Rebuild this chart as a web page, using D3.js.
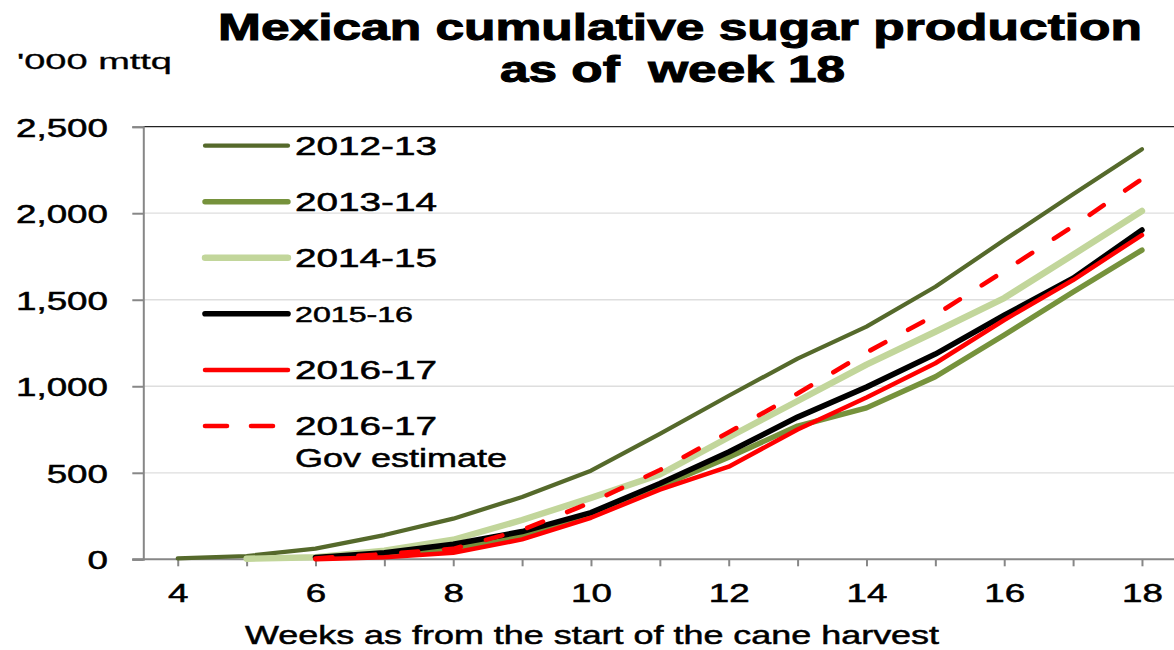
<!DOCTYPE html>
<html>
<head>
<meta charset="utf-8">
<script src="https://cdn.jsdelivr.net/npm/d3@7/dist/d3.min.js"></script>
<style>
  html, body { margin: 0; padding: 0; background: #fff; }
  svg { display: block; font-family: "Liberation Sans", Arial, sans-serif; }
  text { white-space: pre; }
</style>
</head>
<body>
<svg id="chart" width="1174" height="650"></svg>
<script>
// Week numbers since the start of the cane harvest
const weeks = [4, 5, 6, 7, 8, 9, 10, 11, 12, 13, 14, 15, 16, 17, 18];

// Cumulative production, '000 mttq (null = no data for that week)
const season1213 = [5, 19, 62, 140, 235, 360, 512, 725, 945, 1160, 1345, 1575, 1845, 2110, 2370];
const season1314 = [null, null, 5, 25, 60, 140, 255, 420, 590, 770, 875, 1055, 1296, 1545, 1787];
const season1415 = [null, 3, 12, 50, 113, 227, 355, 490, 705, 915, 1125, 1315, 1510, 1760, 2013];
const season1516 = [null, null, 10, 38, 87, 160, 270, 438, 620, 822, 995, 1186, 1410, 1624, 1903];
const season1617 = [null, null, 0, 12, 38, 115, 240, 403, 535, 750, 935, 1133, 1383, 1614, 1874];
const govEstimate1617 = [null, null, 5, 30, 60, 170, 328, 516, 734, 958, 1195, 1412, 1666, 1925, 2198];

const yTicks = [0, 500, 1000, 1500, 2000, 2500];
const xTicks = [4, 6, 8, 10, 12, 14, 16, 18];

const seriesList = [
  { name: "2012-13", values: season1213, color: "#55692b", width: 4.2, dash: null },
  { name: "2013-14", values: season1314, color: "#76923c", width: 5.4, dash: null },
  { name: "2014-15", values: season1415, color: "#c2d69b", width: 6.4, dash: null },
  { name: "2015-16", values: season1516, color: "#000000", width: 5.6, dash: null },
  { name: "2016-17", values: season1617, color: "#ff0000", width: 4.5, dash: null },
  { name: "2016-17", values: govEstimate1617, color: "#ff0000", width: 4.6, dash: "17,26", extra: "Gov estimate" }
];

const svg = d3.select("#chart");
const FONT = "'Liberation Sans', Arial, sans-serif";

const plotLeft = 143.3, plotRight = 1176.4, plotTop = 126.7, plotBottom = 559.3;
const x = d3.scaleLinear().domain([3.5, 18.5]).range([plotLeft, plotRight]);
const y = d3.scaleLinear().domain([0, 2500]).range([plotBottom, plotTop]);

// stretch text horizontally to the wide lettering of the chart
function widen(sel, factor) {
  sel.each(function () {
    const w = this.getComputedTextLength();
    this.setAttribute("textLength", w * factor);
    this.setAttribute("lengthAdjust", "spacingAndGlyphs");
  });
}
function fixWidth(sel, w) {
  sel.attr("textLength", w).attr("lengthAdjust", "spacingAndGlyphs");
}
function heavy(sel, sw) {
  sel.attr("stroke", "#000").attr("stroke-width", sw).attr("paint-order", "stroke");
}

// gridlines
svg.append("g").selectAll("line")
  .data(yTicks.filter(d => d > 0 && d < 2500))
  .join("line")
  .attr("x1", plotLeft).attr("x2", 1174)
  .attr("y1", d => y(d)).attr("y2", d => y(d))
  .attr("stroke", "#dedede").attr("stroke-width", 1.3);

// top border of plot area
svg.append("line")
  .attr("x1", plotLeft).attr("x2", 1174)
  .attr("y1", y(2500)).attr("y2", y(2500))
  .attr("stroke", "#222").attr("stroke-width", 1.2);

// y axis
const yAxis = svg.append("g")
  .attr("transform", `translate(${plotLeft},0)`)
  .call(d3.axisLeft(y).tickValues(yTicks).tickSize(11).tickPadding(24.3)
    .tickFormat(d3.format(",")));
yAxis.select(".domain").attr("stroke", "#878787").attr("stroke-width", 2);
yAxis.selectAll(".tick line").attr("stroke", "#878787").attr("stroke-width", 2);
yAxis.selectAll(".tick text")
  .attr("font-family", FONT).attr("font-size", 25).attr("fill", "#000")
  .attr("dy", "0.38em");
widen(yAxis.selectAll(".tick text"), 1.47);
heavy(yAxis.selectAll(".tick text"), 0.5);

// x axis
const xAxis = svg.append("g")
  .attr("transform", `translate(0,${plotBottom})`)
  .call(d3.axisBottom(x).tickValues(weeks).tickSize(7)
    .tickFormat(d => xTicks.includes(d) ? d : ""));
xAxis.select(".domain").remove();
xAxis.append("line")
  .attr("x1", plotLeft - 11).attr("x2", 1174).attr("y1", 0).attr("y2", 0)
  .attr("stroke", "#878787").attr("stroke-width", 2);
xAxis.selectAll(".tick line").attr("stroke", "#878787").attr("stroke-width", 2);
xAxis.selectAll(".tick text")
  .attr("font-family", FONT).attr("font-size", 25).attr("fill", "#000")
  .attr("y", 42.4).attr("dy", 0);
widen(xAxis.selectAll(".tick text"), 1.47);
heavy(xAxis.selectAll(".tick text"), 0.5);

// series lines
const line = d3.line()
  .defined(d => d.v !== null)
  .x(d => x(d.w))
  .y(d => y(d.v));

svg.append("g").selectAll("path")
  .data(seriesList)
  .join("path")
  .attr("d", s => line(weeks.map((w, i) => ({ w, v: s.values[i] }))))
  .attr("fill", "none")
  .attr("stroke", s => s.color)
  .attr("stroke-width", s => s.width)
  .attr("stroke-linecap", "round")
  .attr("stroke-linejoin", "round")
  .attr("stroke-dasharray", s => s.dash);

// legend
const legendY = [145.7, 201.7, 257.7, 313.7, 370, 426];
const legend = svg.append("g");
seriesList.forEach((s, i) => {
  const ly = legendY[i];
  legend.append("line")
    .attr("x1", 205).attr("x2", 288)
    .attr("y1", ly).attr("y2", ly)
    .attr("stroke", s.color)
    .attr("stroke-width", s.width)
    .attr("stroke-linecap", "round")
    .attr("stroke-dasharray", s.dash ? "22,24" : null);
  const small = s.name === "2015-16";
  const t = legend.append("text")
    .attr("x", 295).attr("y", small ? ly + 8.6 : ly + 9.4)
    .attr("font-family", FONT).attr("font-size", small ? 22 : 25.5)
    .attr("fill", "#000")
    .text(s.name);
  fixWidth(t, small ? 118 : 142);
  heavy(t, 0.5);
  if (s.extra) {
    const t2 = legend.append("text")
      .attr("x", 295).attr("y", ly + 41)
      .attr("font-family", FONT).attr("font-size", 25.5)
      .attr("fill", "#000")
      .text(s.extra);
    fixWidth(t2, 212);
    heavy(t2, 0.5);
  }
});

// title
const t1 = svg.append("text")
  .attr("x", 680).attr("y", 40)
  .attr("text-anchor", "middle")
  .attr("font-family", FONT).attr("font-weight", "bold").attr("font-size", 37)
  .text("Mexican cumulative sugar production");
fixWidth(t1, 924);
heavy(t1, 1);
const t2 = svg.append("text")
  .attr("x", 672.5).attr("y", 82)
  .attr("text-anchor", "middle")
  .attr("font-family", FONT).attr("font-weight", "bold").attr("font-size", 37)
  .text("as of  week 18");
fixWidth(t2, 345);
heavy(t2, 1);

// unit label
const unit = svg.append("text")
  .attr("x", 17).attr("y", 69.3)
  .attr("font-family", FONT).attr("font-size", 22)
  .text("'000 mttq");
fixWidth(unit, 155);
heavy(unit, 0.3);

// x axis title
const xt = svg.append("text")
  .attr("x", 592).attr("y", 644)
  .attr("text-anchor", "middle")
  .attr("font-family", FONT).attr("font-size", 26)
  .text("Weeks as from the start of the cane harvest");
fixWidth(xt, 694);
heavy(xt, 0.5);
</script>
</body>
</html>
